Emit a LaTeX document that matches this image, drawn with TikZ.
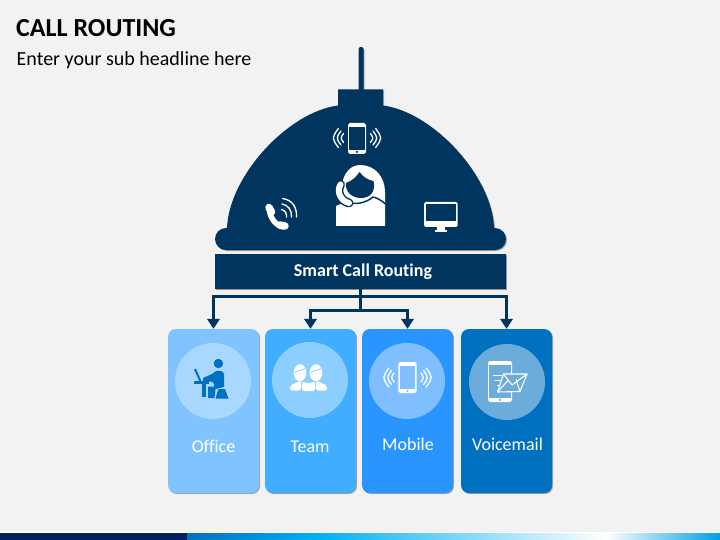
\documentclass[tikz,border=0pt]{standalone}
\usepackage{fontspec}
\setmainfont{Carlito}[Ligatures=NoCommon]
\usetikzlibrary{shadows,arrows.meta}
\definecolor{bgc}{HTML}{F2F2F2}
\definecolor{navy}{HTML}{00355F}
\definecolor{stripnavy}{HTML}{002060}
\definecolor{stripblue}{HTML}{0070C0}
\definecolor{stripcyan}{HTML}{00B0F0}
\definecolor{stripend}{HTML}{009FE3}
\definecolor{cOffice}{HTML}{80C4FF}
\definecolor{cTeam}{HTML}{40ADFF}
\definecolor{cMobile}{HTML}{2B95FF}
\definecolor{cVoice}{HTML}{0070C0}
\colorlet{sOffice}{cOffice!68!white}
\colorlet{sTeam}{cTeam!60!white}
\colorlet{sMobile}{cMobile!60!white}
\colorlet{sVoice}{cVoice!58!white}
\tikzset{
  softshadow/.style={drop shadow={shadow xshift=1.2pt,shadow yshift=-1.2pt,opacity=.22,fill=black},
                     drop shadow={shadow xshift=.5pt,shadow yshift=-.5pt,opacity=.22,fill=black}},
  cardbox/.style={draw=none,minimum width=91pt,minimum height=164pt,rounded corners=8pt,inner sep=0,softshadow},
  disc/.style={circle,draw=none,minimum size=76pt,inner sep=0},
  cardlabel/.style={text=white,font=\fontsize{18}{20}\selectfont,inner sep=0,anchor=base},
  conn/.style={navy,line width=2.8pt,-{Triangle[width=12.5pt,length=10pt]}},
  wave/.style={white,line width=1.3pt,line cap=round},
}
% phone: centre x, centre y, half w, half h, screen colour
\newcommand{\phonefig}[5]{%
  \fill[white,rounded corners=1.8pt] ({#1-#3},{#2-#4}) rectangle ({#1+#3},{#2+#4});
  \fill[#5] ({#1-#3+1.4},{#2-#4+3.6}) rectangle ({#1+#3-1.4},{#2+#4-4.2});
  \fill[#5] ({#1},{#2+#4-2.1}) circle[radius=1.2];
}
% wave arcs: centre x, centre y, direction, apex distance, half height
\newcommand{\wavearc}[5]{%
  \draw[wave] ({#1+#3*(#4-.35*#5)},{#2-#5}) .. controls ({#1+#3*(#4+.35*#5)},{#2}) .. ({#1+#3*(#4-.35*#5)},{#2+#5});
}
\newcommand{\wavesix}[2]{%
  \wavearc{#1}{#2}{-1}{22}{9.5}\wavearc{#1}{#2}{-1}{18.5}{7}\wavearc{#1}{#2}{-1}{15}{4.5}%
  \wavearc{#1}{#2}{1}{22}{9.5}\wavearc{#1}{#2}{1}{18.5}{7}\wavearc{#1}{#2}{1}{15}{4.5}%
}
\begin{document}
\begin{tikzpicture}[x=1pt,y=-1pt]
\useasboundingbox (0,0) rectangle (720,540);
\fill[bgc] (0,0) rectangle (720,540);

% title
\node[anchor=base west,inner sep=0,font=\bfseries\fontsize{26}{28}\selectfont] (title) at (16,36.5) {CALL ROUTING};
\node[anchor=base west,inner sep=0,font=\fontsize{20}{24}\selectfont] (subtitle) at (16.5,66) {Enter your sub headline here};

% bell
\fill[navy,softshadow] (358.5,49.5) .. controls (358.5,46) and (363.5,46) .. (363.5,49.5) -- (363.5,92) -- (358.5,92) -- cycle;
\fill[navy,softshadow] (338,89.5) -- (383,89.5) -- (383,105.5) .. controls (433,112) and (492,176) .. (494,228)
   -- (495,228) .. controls (501,228) and (506,233) .. (506,239) .. controls (506,245) and (501,250) .. (495,250)
   -- (226,250) .. controls (220,250) and (215,245) .. (215,239) .. controls (215,233) and (220,228) .. (226,228)
   -- (227,228) .. controls (229,176) and (288,112) .. (338,105.5) -- cycle;

% top phone icon
\phonefig{357}{138.5}{9}{15.5}{navy}
\wavesix{357}{138}

% agent
\fill[white] (342,200) .. controls (339,178) and (348,165) .. (360,165) .. controls (375,165) and (385,177) .. (385,192) -- (385,212) -- (344,212) -- cycle;
\fill[white] (336,226) -- (336,206) -- (350,200) -- (372,200) .. controls (380,201) and (385,206) .. (385,213) -- (385,226) -- cycle;
\fill[navy] (359.5,172) .. controls (356,177) and (352,181) .. (346,183) .. controls (345,192) and (352,198) .. (361,198) .. controls (370,198) and (376,192) .. (373.5,181) .. controls (368,180) and (363,177) .. (359.5,172) -- cycle;
\draw[navy,line width=1.5pt] (349,203) .. controls (360,205) and (368,201) .. (373,197) .. controls (377,198) and (381,200) .. (385.5,204);
\draw[navy,line width=9pt,line cap=round] (340.5,184.5) .. controls (336,192) and (341,201) .. (349,203);
\draw[white,line width=6pt,line cap=round] (340.5,184.5) .. controls (336,192) and (341,201) .. (349,203);

% handset icon
\draw[white,line width=5.5pt] (269.5,210) .. controls (270,218) and (276,226) .. (284,227);
\draw[white,line width=7.5pt,line cap=round] (269,207.5) -- (271.5,212);
\draw[white,line width=7.5pt,line cap=round] (279.5,225) -- (285,226);
\draw[wave] (282.5,198.5) .. controls (293,200) and (297,208) .. (296.5,217);
\draw[wave] (282,204) .. controls (288,205) and (292,210) .. (291.5,217);
\draw[wave] (281.5,209.5) .. controls (284.5,210) and (287,213) .. (286.5,217);

% monitor icon
\fill[white,rounded corners=1.5pt] (424,202) rectangle (457.5,227);
\fill[navy] (426,204.5) rectangle (455.5,221);
\fill[white] (437,227) rectangle (444.5,230);
\fill[white] (435,230) rectangle (446.5,232);

% router
\node[fill=navy,minimum width=291pt,minimum height=35pt,inner sep=0,softshadow,text=white,
      font=\bfseries\fontsize{18}{20}\selectfont] (router) at (360.5,271.5) {\hspace*{5pt}\raisebox{-1pt}{Smart Call Routing}};

% cards
\node[cardbox,fill=cOffice] (office) at (213.5,411) {};
\node[cardbox,fill=cTeam]   (team)   at (310.5,411) {};
\node[cardbox,fill=cMobile] (mobile) at (407.5,411) {};
\node[cardbox,fill=cVoice]  (voice)  at (506.5,411) {};

% connectors
\coordinate (hub) at (router.south);
\draw[conn] (hub) -- ++(0,7) -| (office.north);
\draw[conn] (hub) -- ++(0,7) -| (voice.north);
\draw[conn] (hub) -- ++(0,21) -| (team.north);
\draw[conn] (hub) -- ++(0,21) -| (mobile.north);

% discs
\node[disc,fill=sOffice] (dOffice) at (213,381) {};
\node[disc,fill=sTeam]   (dTeam)   at (310,380) {};
\node[disc,fill=sMobile] (dMobile) at (407,381) {};
\node[disc,fill=sVoice]  (dVoice)  at (507,382) {};

% labels
\node[cardlabel] (lOffice) at (213.5,452) {Office};
\node[cardlabel] (lTeam)   at (310,452) {Team};
\node[cardlabel] (lMobile) at (408,450) {Mobile};
\node[cardlabel] (lVoice)  at (507.5,450) {Voicemail};

% office icon
\fill[cVoice] (218.4,363.5) circle[radius=4.7];
\draw[cVoice,line width=2pt] (195,369) -- (200.5,381.5);
\fill[cVoice] (194,381) rectangle (209,384);
\fill[cVoice] (202,384) rectangle (205.5,397);
\fill[cVoice] (203,378) -- (203,381.5) -- (212,381.5) -- (214,384) -- (214,386.5) -- (208,386.5) -- (208,398) -- (214.5,398) -- (215.5,389) -- (224,387) -- (224,374) .. controls (224,370) and (215,369.5) .. (213,373.5) -- cycle;
\fill[cVoice] (218.5,389) -- (225,389) -- (228.5,398.5) -- (215.5,398.5) -- cycle;

% team icon
\foreach \hx in {300,316}{
  \fill[white] (\hx,372.7) ellipse[x radius=6.3,y radius=8.5];
  \draw[sTeam,line width=.8pt] (\hx-5,373) .. controls (\hx-3,369.5) and (\hx+1,371.5) .. (\hx+5,368.5);
}
\fill[white,rounded corners=2pt] (290,390.5) -- (290,385.5) -- (301,380.5) -- (301,390.5) -- cycle;
\fill[white,rounded corners=2pt] (302,391) -- (302,381.5) -- (308.5,383.5) -- (315,381.5) -- (315,391) -- cycle;
\fill[white,rounded corners=2pt] (316,390.5) -- (316,380.5) -- (327,385.5) -- (327,390.5) -- cycle;

% mobile icon
\phonefig{407.5}{377.5}{9.2}{15.5}{sMobile}
\wavesix{407.5}{377.5}

% voicemail icon
\phonefig{500}{381.5}{12}{20.5}{sVoice}
\draw[white,line width=1.1pt,fill=sVoice,line join=round] (503.5,374) -- (527,374) -- (520,391.5) -- (497.5,392) -- cycle;
\draw[white,line width=1.1pt,line join=round] (503.5,374) -- (512,385) -- (527,374);
\draw[white,line width=1.1pt] (497.5,392) -- (508,380.5);
\draw[white,line width=1.1pt] (520,391.5) -- (516,379.5);
\draw[white,line width=1pt] (493,375) -- (502,375);
\draw[white,line width=1pt] (495,380) -- (501,380);
\draw[white,line width=1pt] (497,385) -- (500,385);

% bottom strip
\fill[white] (0,532) rectangle (720,533);
\fill[stripnavy] (0,533) rectangle (187,540);
\shade[left color=stripblue,right color=stripcyan] (187,533) rectangle (316,540);
\shade[left color=stripcyan,right color=white] (316,533) rectangle (606,540);
\shade[left color=white,right color=stripend] (606,533) rectangle (720,540);
\end{tikzpicture}
\end{document}
